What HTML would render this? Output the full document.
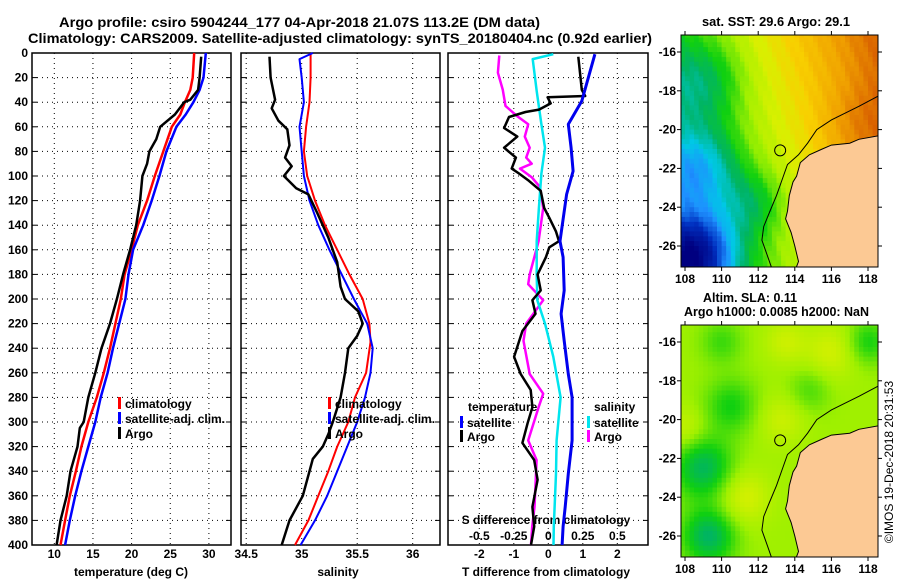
<!DOCTYPE html>
<html><head><meta charset="utf-8"><style>
html,body{margin:0;padding:0;background:#fff;}
svg text{font-family:"Liberation Sans",sans-serif;font-weight:bold;fill:#000;}
</style></head><body>
<svg id="fig" width="900" height="580" viewBox="0 0 900 580" xmlns="http://www.w3.org/2000/svg">
<rect width="900" height="580" fill="#fff"/>
<text x="59" y="27" font-size="14" textLength="481" lengthAdjust="spacingAndGlyphs">Argo profile: csiro 5904244_177 04-Apr-2018 21.07S 113.2E (DM data)</text>
<text x="28" y="43" font-size="14" textLength="624" lengthAdjust="spacingAndGlyphs">Climatology: CARS2009. Satellite-adjusted climatology: synTS_20180404.nc (0.92d earlier)</text>
<g id="g1"></g>
<g id="g2"></g>
<g id="g3"></g>
<g id="m1"></g>
<g id="m2"></g>
<text x="702" y="26" font-size="13" textLength="148" lengthAdjust="spacingAndGlyphs">sat. SST: 29.6 Argo: 29.1</text>
<text x="703" y="302" font-size="13" textLength="94" lengthAdjust="spacingAndGlyphs">Altim. SLA: 0.11</text>
<text x="684" y="316" font-size="13" textLength="185" lengthAdjust="spacingAndGlyphs">Argo h1000: 0.0085 h2000: NaN</text>
<text transform="translate(893,462) rotate(-90)" font-size="12" text-anchor="middle" style="font-weight:normal">©IMOS 19-Dec-2018 20:31:53</text>
</svg>
<script>
// ---------- data ----------
const tempClimDepth=[0,20,30,40,50,60,80,100,120,140,160,180,200,220,240,260,280,300,320,340,360,380,400];
const tempClim=[28.1,27.9,27.6,26.9,26.3,25.2,24.1,23.0,22.0,20.8,20.0,19.1,18.6,17.9,17.2,16.4,15.5,14.4,13.5,12.8,12.0,11.4,10.8];
const tempSatDepth=[0,20,30,40,50,60,80,100,120,140,160,180,200,220,240,260,280,300,320,340,360,380,400];
const tempSat=[29.6,29.3,28.8,28.0,27.0,25.8,24.5,23.6,22.6,21.5,20.2,19.6,19.2,18.4,17.6,16.9,16.0,15.3,14.4,13.5,12.7,12.0,11.4];
const tempArgoDepth=[3,20,30,38,40,50,60,70,80,90,100,120,140,160,180,200,220,240,260,280,300,305,320,340,360,380,400];
const tempArgo=[29.0,28.8,28.6,27.6,26.8,25.6,23.7,23.2,22.3,22.0,21.4,21.1,20.6,19.8,18.9,18.1,17.2,16.1,15.3,14.4,13.8,13.3,13.0,12.1,11.6,10.8,10.3];
const salClimDepth=[0,20,40,60,80,100,120,140,160,180,200,220,235,260,280,300,320,340,360,380,400];
const salClim=[35.08,35.08,35.07,35.04,35.02,35.05,35.12,35.21,35.32,35.43,35.55,35.61,35.62,35.58,35.48,35.42,35.32,35.24,35.15,35.06,34.94];
const salSatDepth=[0,5,20,40,60,80,100,120,140,160,180,200,210,220,240,260,280,300,320,340,360,380,400];
const salSat=[35.10,34.98,35.00,35.02,34.98,35.00,35.02,35.07,35.15,35.25,35.36,35.47,35.53,35.59,35.64,35.62,35.57,35.50,35.41,35.32,35.23,35.12,34.99];
const salArgoDepth=[3,20,38,45,55,62,75,85,92,100,110,115,130,150,170,190,200,210,220,230,240,260,280,300,310,320,330,340,360,380,400];
const salArgo=[34.71,34.72,34.76,34.73,34.79,34.87,34.89,34.85,34.91,34.84,34.95,35.06,35.14,35.24,35.32,35.35,35.39,35.51,35.55,35.50,35.42,35.39,35.35,35.28,35.24,35.19,35.10,35.07,35.01,34.89,34.82];
const dTSatDepth=[1,39,58,77,96,115,153,166,193,212,234,261,280,315,342,369,385,400];
const dTSat=[1.35,0.97,0.58,0.66,0.72,0.53,0.34,0.43,0.46,0.37,0.46,0.58,0.69,0.69,0.58,0.49,0.43,0.40];
const dSSatDepth=[1,5,31,58,77,98,126,153,180,201,220,247,280,315,342,385,400];
const dSSat=[0.036,-0.113,-0.084,-0.05,-0.024,-0.05,-0.068,-0.084,-0.084,-0.08,-0.024,0.036,0.089,0.06,0.056,0.04,0.038];
const dTArgoDepth=[3,16,30,35,36,41,46,48,52,61,68,77,85,94,98,104,112,126,134,145,153,158,166,180,193,201,212,226,247,261,274,288,301,317,331,347,369,385,400];
const dTArgo=[0.87,0.92,0.97,1.07,-0.02,0.07,-0.27,-0.66,-1.14,-1.28,-0.9,-1.28,-0.94,-1.06,-0.85,-0.56,-0.22,-0.12,0.03,0.22,0.31,0.03,-0.07,-0.31,-0.22,-0.46,-0.37,-0.75,-0.99,-0.8,-0.51,-0.46,-0.6,-0.75,-0.41,-0.31,-0.46,-0.41,-0.5];
const dSArgoDepth=[2,16,30,43,51,58,68,77,85,90,94,101,109,126,153,180,188,201,220,234,261,277,288,315,331,369,385,400];
const dSArgo=[-0.355,-0.365,-0.33,-0.31,-0.23,-0.146,-0.17,-0.135,-0.16,-0.12,-0.205,-0.12,-0.06,-0.037,-0.07,-0.135,-0.146,-0.037,-0.16,-0.18,-0.135,-0.037,-0.07,-0.146,-0.085,-0.1,-0.117,-0.125];
const depthTicks=[0,20,40,60,80,100,120,140,160,180,200,220,240,260,280,300,320,340,360,380,400];
const tempTicks=[10,15,20,25,30];
const salTicks=[34.5,35,35.5,36];
const salTickLabels=["34.5","35","35.5","36"];
const tdTicks=[-2,-1,0,1,2];
const sdTicks=[-0.5,-0.25,0,0.25,0.5];
const lonTicks=[108,110,112,114,116,118];
const latTicks=[-16,-18,-20,-22,-24,-26];
const argoLon=113.2, argoLat=-21.07;

// ---------- helpers ----------
const NS="http://www.w3.org/2000/svg";
function mk(parent,tag,attrs){const e=document.createElementNS(NS,tag);for(const k in attrs)e.setAttribute(k,attrs[k]);parent.appendChild(e);return e;}
const Y0=53,Y1=545;
const yD=d=>Y0+d*(Y1-Y0)/400;
const xT=t=>54.3+(t-10)*7.73;
const xS=s=>301.7+(s-35)*111;
const xTd=v=>548.3+v*34.5;
const xSd=v=>548.3+v*138;
function pathOf(xs,ds,fx){return xs.map((v,i)=>(i?'L':'M')+fx(v).toFixed(1)+' '+yD(ds[i]).toFixed(1)).join(' ');}

function panel(g,x0,x1,vgrid,fx){
  for(const d of depthTicks){ if(d>0&&d<400){const l=mk(g,'line',{x1:x0,x2:x1,y1:yD(d),y2:yD(d),stroke:'#000','stroke-width':1,'stroke-dasharray':'1 4'});
    }
    const t1=mk(g,'line',{x1:x0,x2:x0+5,y1:yD(d),y2:yD(d),stroke:'#000'});
    const t2=mk(g,'line',{x1:x1-5,x2:x1,y1:yD(d),y2:yD(d),stroke:'#000'});}
  for(const v of vgrid){const l=mk(g,'line',{x1:fx(v),x2:fx(v),y1:Y0,y2:Y1,stroke:'#000','stroke-dasharray':'1 4'});
    }
  const r=mk(g,'rect',{x:x0,y:Y0,width:x1-x0,height:Y1-Y0,fill:'none',stroke:'#000','stroke-width':1.5});
  
}
function line(g,xs,ds,fx,color,w,name){const p=mk(g,'path',{d:pathOf(xs,ds,fx),fill:'none',stroke:color,'stroke-width':w,'stroke-linejoin':'round'});
  return p;}
function txt(g,x,y,s,anchor,size,name){const t=mk(g,'text',{x:x,y:y,'text-anchor':anchor||'start','font-size':size||12});t.textContent=s;
  return t;}
function legendEntry(g,x,y,color,label){const b=mk(g,'rect',{x:x,y:y-10,width:3,height:12,fill:color});
  
  txt(g,x+7,y+1,label,'start',12,'legend-entry');}

// ---------- panel 1 ----------
const g1=document.getElementById('g1');
panel(g1,32,231,tempTicks,xT);
for(const d of depthTicks) txt(g1,28,yD(d)+4,String(d),'end',12,'depth-tick-label');
for(const t of tempTicks) txt(g1,xT(t),558,String(t),'middle',12,'temperature-tick-label');
txt(g1,131,576,'temperature (deg C)','middle',12,'x-axis-title');
line(g1,tempClim,tempClimDepth,xT,'#ff0000',2.5,'temperature-climatology-line');
line(g1,tempSat,tempSatDepth,xT,'#0000ff',2.5,'temperature-satellite-line');
line(g1,tempArgo,tempArgoDepth,xT,'#000',2.5,'temperature-argo-line');
legendEntry(g1,118,407,'#ff0000','climatology');
legendEntry(g1,118,422,'#0000ff','satellite-adj. clim.');
legendEntry(g1,118,437,'#000','Argo');

// ---------- panel 2 ----------
const g2=document.getElementById('g2');
panel(g2,241,440,salTicks,xS);
salTicks.forEach((s,i)=>txt(g2,xS(s),558,salTickLabels[i],'middle',12,'salinity-tick-label'));
txt(g2,338,576,'salinity','middle',12,'x-axis-title');
line(g2,salClim,salClimDepth,xS,'#ff0000',2,'salinity-climatology-line');
line(g2,salSat,salSatDepth,xS,'#0000ff',2,'salinity-satellite-line');
line(g2,salArgo,salArgoDepth,xS,'#000',2.5,'salinity-argo-line');
legendEntry(g2,328,407,'#ff0000','climatology');
legendEntry(g2,328,422,'#0000ff','satellite-adj. clim.');
legendEntry(g2,328,437,'#000','Argo');

// ---------- panel 3 ----------
const g3=document.getElementById('g3');
panel(g3,448,648,tdTicks,xTd);
for(const v of tdTicks) txt(g3,xTd(v),558,String(v),'middle',12,'t-difference-tick-label');
txt(g3,546,576,'T difference from climatology','middle',12,'x-axis-title');
txt(g3,546,524,'S difference from climatology','middle',12,'secondary-axis-title');
sdTicks.forEach(v=>txt(g3,xSd(v),540,String(v),'middle',12,'s-difference-tick-label'));
line(g3,dSArgo,dSArgoDepth,xSd,'#ff00ff',2.5,'salinity-argo-diff-line');
line(g3,dSSat,dSSatDepth,xSd,'#00e5ee',2.5,'salinity-satellite-diff-line');
line(g3,dTArgo,dTArgoDepth,xTd,'#000',2.5,'temperature-argo-diff-line');
line(g3,dTSat,dTSatDepth,xTd,'#0000ee',3,'temperature-satellite-diff-line');
txt(g3,468,411,'temperature','start',12,'legend-title');
legendEntry(g3,460,426,'#0000ff','satellite');
legendEntry(g3,460,440,'#000','Argo');
txt(g3,594,411,'salinity','start',12,'legend-title');
legendEntry(g3,587,426,'#00e5ee','satellite');
legendEntry(g3,587,440,'#ff00ff','Argo');

// ---------- maps ----------
const stops=[[0,[0,0,128]],[0.15,[0,48,192]],[0.25,[30,144,255]],[0.33,[0,200,230]],[0.42,[0,180,100]],[0.5,[16,208,16]],[0.6,[160,240,0]],[0.68,[216,240,0]],[0.76,[248,208,0]],[0.86,[240,160,0]],[0.95,[216,96,0]],[1,[200,70,0]]];
function cmap(v){v=Math.max(0,Math.min(1,v));for(let i=1;i<stops.length;i++){if(v<=stops[i][0]){const a=stops[i-1],b=stops[i];const f=(v-a[0])/(b[0]-a[0]);
  const c=a[1].map((x,j)=>Math.round(x+(b[1][j]-x)*f));return `rgb(${c[0]},${c[1]},${c[2]})`;}}return 'rgb(200,70,0)';}
function gauss(lon,lat,cx,cy,s,a){return a*Math.exp(-((lon-cx)**2+(lat-cy)**2)/(2*s*s));}
function sstField(lon,lat){let v=0.66+0.04*(lon-113)+0.012*(lat+21);
  v+=gauss(lon,lat,109,-17.5,1.5,-0.13)+gauss(lon,lat,108.8,-22,1.5,-0.2)+gauss(lon,lat,108.5,-26.5,1.6,-0.42)+gauss(lon,lat,111.8,-23.8,1.2,-0.12)+gauss(lon,lat,117.5,-20,1.5,0.06);
  v+=Math.sin(lon*7.1+lat*3.3)*0.012;return v;}
function slaField(lon,lat){let v=0.6;
  v+=gauss(lon,lat,109,-22.5,1.1,-0.17)+gauss(lon,lat,109.3,-26,1.0,-0.18)+gauss(lon,lat,111.2,-24,1.0,0.08)+gauss(lon,lat,116,-16.5,1.0,0.07)+gauss(lon,lat,113.5,-16,0.8,0.06)
   +gauss(lon,lat,108,-20.5,0.8,0.06)+gauss(lon,lat,113.3,-20,0.9,0.06)+gauss(lon,lat,110.5,-19.3,1.0,-0.1)+gauss(lon,lat,118,-16,0.8,-0.1)+gauss(lon,lat,114.8,-18.5,0.8,-0.06)+gauss(lon,lat,110,-16,0.8,-0.07);
  return v;}
const land=[[118.7,-20.3],[117.5,-20.5],[117,-20.7],[116,-20.8],[115.5,-21.0],[114.8,-21.3],[114.3,-21.7],[114.1,-22.4],[113.9,-22.7],[113.7,-23.4],[113.6,-24.2],[113.5,-24.6],[113.8,-25.3],[114.0,-26.0],[114.2,-26.8],[114.0,-27.3],[118.7,-27.3]];
const shelf=[[118.7,-18.2],[117.5,-18.8],[116,-19.5],[115.2,-20.0],[114.7,-20.7],[114.2,-21.3],[113.6,-21.8],[113.3,-22.6],[113.0,-23.4],[112.6,-24.3],[112.3,-25.0],[112.2,-25.7],[112.5,-26.5],[112.8,-27.3]];
function drawMap(g,yOff,field){
  const X=lon=>685+(lon-108)*18.3, Y=lat=>yOff+52+(-16-lat)*19.4;
  const x0=681,x1=878,y0=yOff+35,y1=yOff+267;
  const cp=mk(g,'clipPath',{id:'clip'+yOff});mk(cp,'rect',{x:x0,y:y0,width:x1-x0,height:y1-y0});
  const cg=mk(g,'g',{'clip-path':`url(#clip${yOff})`});
  
  const step=0.25;
  for(let lon=107.75;lon<118.75;lon+=step)for(let lat=-15;lat>-27.5;lat-=step){
    mk(cg,'rect',{x:X(lon).toFixed(1),y:Y(lat).toFixed(1),width:(step*18.3+0.6).toFixed(1),height:(step*19.4+0.6).toFixed(1),fill:cmap(field(lon+step/2,lat-step/2))});}
  const lp=mk(cg,'polygon',{points:land.map(p=>X(p[0]).toFixed(1)+','+Y(p[1]).toFixed(1)).join(' '),fill:'#fcc994',stroke:'#000','stroke-width':1});
  
  const sp=mk(cg,'polyline',{points:shelf.map(p=>X(p[0]).toFixed(1)+','+Y(p[1]).toFixed(1)).join(' '),fill:'none',stroke:'#000','stroke-width':1});
  
  const c=mk(g,'circle',{cx:X(argoLon),cy:Y(argoLat),r:5.5,fill:'none',stroke:'#000','stroke-width':1});
  
  const fr=mk(g,'rect',{x:x0,y:y0,width:x1-x0,height:y1-y0,fill:'none',stroke:'#000','stroke-width':1});
  
  for(const lon of lonTicks){mk(g,'line',{x1:X(lon),x2:X(lon),y1:y0,y2:y0-4,stroke:'#000'});mk(g,'line',{x1:X(lon),x2:X(lon),y1:y1,y2:y1+4,stroke:'#000'});
    txt(g,X(lon),y1+16,String(lon),'middle',12,'longitude-tick-label');}
  for(const lat of latTicks){mk(g,'line',{x1:x0,x2:x0-4,y1:Y(lat),y2:Y(lat),stroke:'#000'});mk(g,'line',{x1:x1,x2:x1+4,y1:Y(lat),y2:Y(lat),stroke:'#000'});
    txt(g,676,Y(lat)+4,String(lat),'end',12,'latitude-tick-label');}
}
drawMap(document.getElementById('m1'),0,sstField);
drawMap(document.getElementById('m2'),290,slaField);
</script>
</body></html>
